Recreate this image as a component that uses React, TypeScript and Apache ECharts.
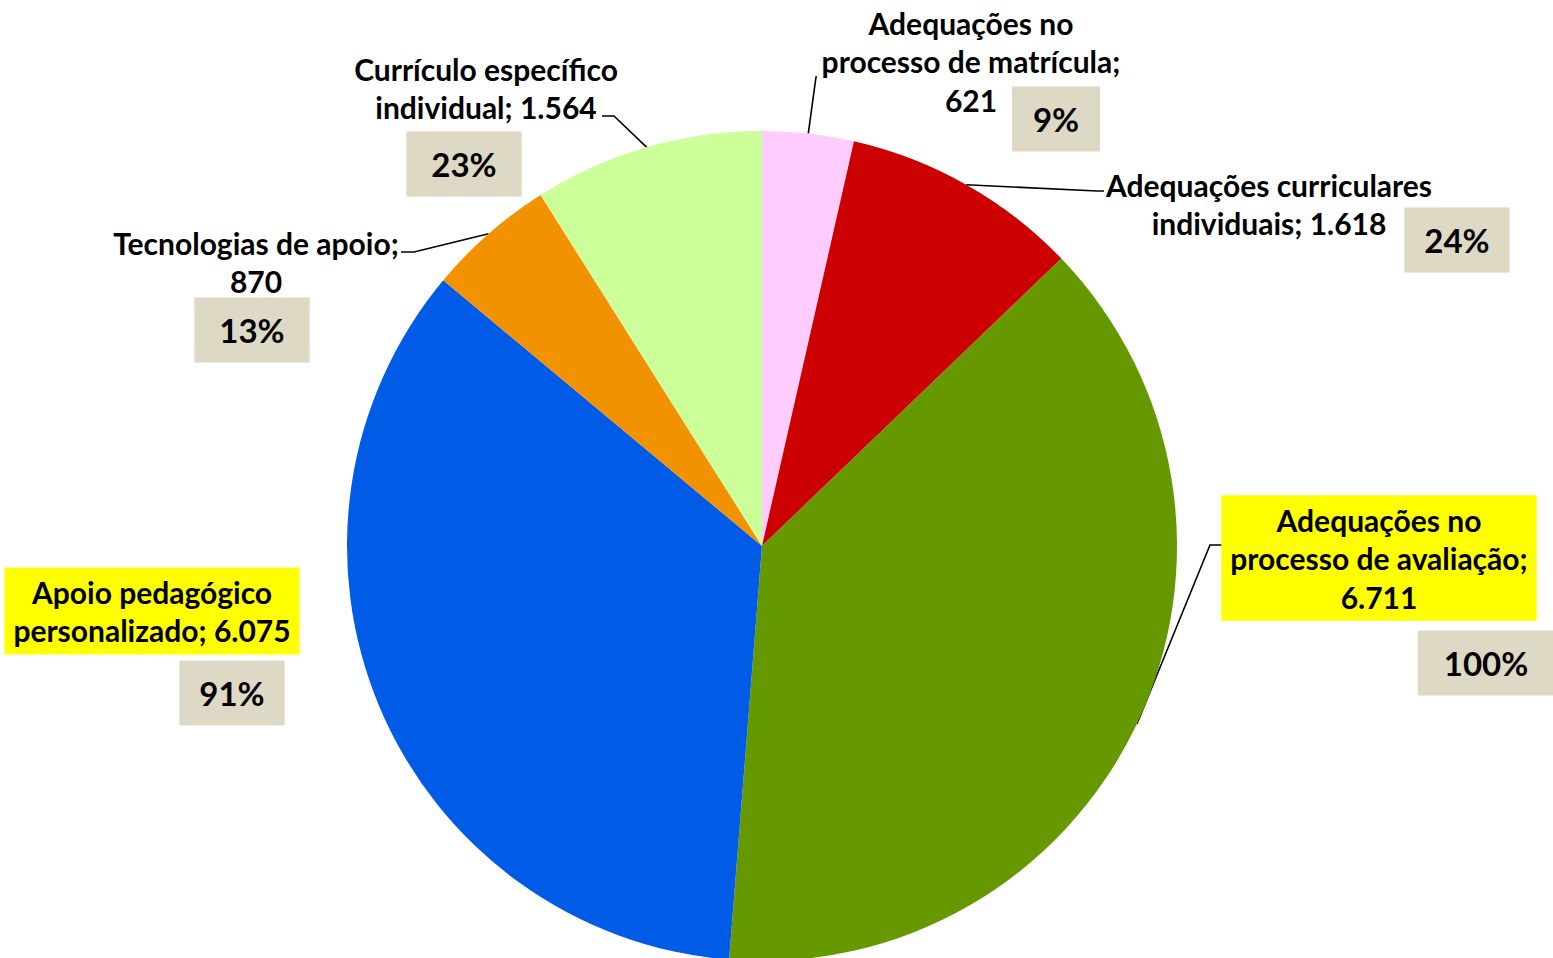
import React, { useEffect, useRef } from "react";
import * as echarts from "echarts";

// ---- data ----
const categories = [
  "Adequações no\nprocesso de matrícula",
  "Adequações curriculares\nindividuais",
  "Adequações no\nprocesso de avaliação",
  "Apoio pedagógico\npersonalizado",
  "Tecnologias de apoio",
  "Currículo específico\nindividual",
];
const values = [621, 1618, 6711, 6075, 870, 1564];
const colors = ["#FFCCFF", "#CC0000", "#669900", "#005CE6", "#F39200", "#CCFF99"];

// ---- layout (positions / styles) ----
const CENTER = [762, 546];
const RADIUS = 415;
const labelPos = [
  [971, 61],
  [1269, 204],
  [1379, 558],
  [152, 611],
  [256, 262],
  [486, 88],
];
const valueOnNewLine = [true, false, true, false, true, false];
const highlighted = [false, false, true, true, false, false];
const leaderEnds: (number[][] | null)[] = [
  [[816, 77], [817, 77]],
  [[1097, 191], [1104, 191]],
  [[1210, 545], [1222, 545]],
  null,
  [[414, 252], [401, 252]],
  [[614, 116], [602, 116]],
];
const pctPos = [
  [1056, 119],
  [1457, 240],
  [1486, 663],
  [232, 693],
  [252, 330],
  [464, 164],
];
const pctPadX = [21, 20, 26, 20, 25, 25];

const fmt = (v: number) => String(v).replace(/\B(?=(\d{3})+(?!\d))/g, ".");
const total = values.reduce((a, b) => a + b, 0);
const maxV = Math.max(...values);

function anchorFor(i: number): number[] {
  let cum = 0;
  for (let k = 0; k < i; k++) cum += values[k];
  const th = ((cum + values[i] / 2) / total) * Math.PI * 2;
  return [CENTER[0] + RADIUS * Math.sin(th), CENTER[1] - RADIUS * Math.cos(th)];
}

export default function App() {
  const ref = useRef<HTMLDivElement>(null);
  useEffect(() => {
    if (!ref.current) return;
    const chart = echarts.init(ref.current, undefined, { renderer: "svg" });
    const font = "Lato";
    chart.setOption({
      animation: false,
      backgroundColor: "#FFFFFF",
      series: [
        {
          type: "pie",
          center: CENTER,
          radius: RADIUS,
          startAngle: 90,
          clockwise: true,
          avoidLabelOverlap: false,
          silent: true,
          data: values.map((v, i) => ({
            value: v,
            name: categories[i],
            itemStyle: { color: colors[i] },
            label: highlighted[i]
              ? { backgroundColor: "#FFFF00", padding: [5, 9] }
              : {},
            labelLine: { show: leaderEnds[i] != null },
          })),
          label: {
            show: true,
            position: "outside",
            formatter: (p: any) =>
              p.name + (valueOnNewLine[p.dataIndex] ? ";\n" : "; ") + fmt(p.value),
            fontFamily: font,
            fontWeight: "bold",
            fontSize: 30,
            lineHeight: 38.5,
            color: "#000000",
          },
          labelLine: {
            show: true,
            length: 20,
            length2: 10,
            lineStyle: { color: "#000000", width: 1.6 },
          },
          labelLayout: (p: any) => {
            const i = p.dataIndex;
            const res: any = {
              x: labelPos[i][0],
              y: labelPos[i][1],
              align: "center",
              verticalAlign: "middle",
            };
            const ends = leaderEnds[i];
            if (ends) {
              const a =
                p.labelLinePoints && p.labelLinePoints[0]
                  ? p.labelLinePoints[0]
                  : anchorFor(i);
              res.labelLinePoints = [a, ends[0], ends[1]];
            }
            return res;
          },
        },
        {
          type: "pie",
          center: CENTER,
          radius: RADIUS,
          startAngle: 90,
          clockwise: true,
          avoidLabelOverlap: false,
          silent: true,
          itemStyle: { color: "rgba(0,0,0,0)" },
          data: values.map((v, i) => ({
            value: v,
            name: categories[i],
            label: { padding: [13, pctPadX[i]] },
          })),
          label: {
            show: true,
            position: "outside",
            formatter: (p: any) => Math.round((p.value / maxV) * 100) + "%",
            fontFamily: font,
            fontWeight: "bold",
            fontSize: 33,
            lineHeight: 39,
            color: "#000000",
            backgroundColor: "#DDD9C4",
          },
          labelLine: { show: false },
          labelLayout: (p: any) => ({
            x: pctPos[p.dataIndex][0],
            y: pctPos[p.dataIndex][1],
            align: "center",
            verticalAlign: "middle",
          }),
        },
      ],
    });
    return () => chart.dispose();
  }, []);
  return (
    <div
      ref={ref}
      style={{ position: "absolute", left: 0, top: 0, width: 1553, height: 958 }}
    />
  );
}
